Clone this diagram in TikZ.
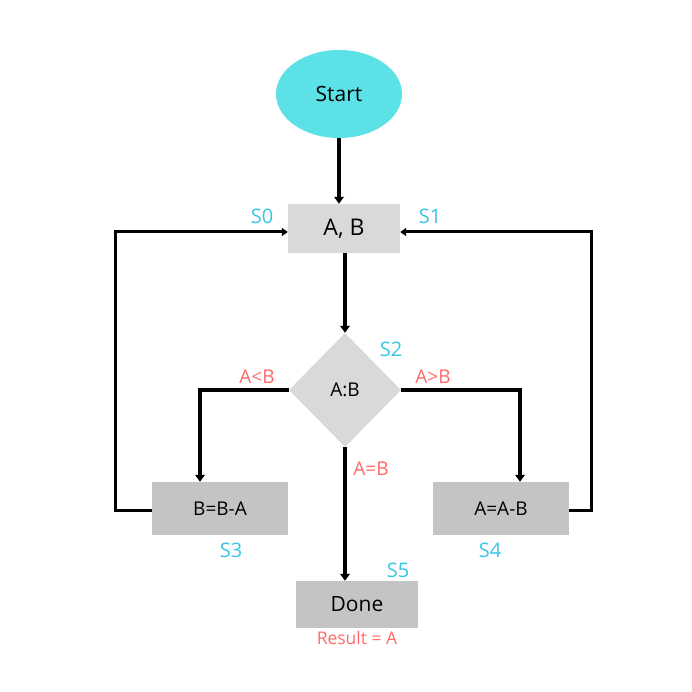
\documentclass[tikz,border=0pt]{standalone}
\usepackage{fontspec}
\setmainfont{Open Sans}
\usetikzlibrary{arrows.meta,shapes.geometric}
\definecolor{startc}{HTML}{5CE1E6}
\definecolor{lightg}{HTML}{D9D9D9}
\definecolor{darkg}{HTML}{C4C4C4}
\definecolor{cyanl}{HTML}{38C6E8}
\definecolor{redl}{HTML}{FF6B6B}
\tikzset{
  box/.style={rectangle, fill=#1, inner sep=0pt, font=\fontsize{19}{21}\selectfont},
  conn/.style={line width=4.5pt, -{Triangle[length=7pt,width=9.5pt]}},
  loopc/.style={line width=3pt, -{Triangle[length=6pt,width=8pt]}},
  slab/.style={text=cyanl, font=\fontsize{20}{22}\selectfont, inner sep=0pt},
  clab/.style={text=redl, font=\fontsize{19}{21}\selectfont, inner sep=0pt},
}
\begin{document}
\begin{tikzpicture}[x=1pt,y=-1pt]
\useasboundingbox (0,0) rectangle (692,692);
\fill[white] (0,0) rectangle (692,692);
\node[ellipse, fill=startc, minimum width=126pt, minimum height=88pt, inner sep=0pt, font=\fontsize{21}{23}\selectfont] (start) at (339,94) {Start};
\node[box=lightg, minimum width=112pt, minimum height=49pt, font=\fontsize{23}{25}\selectfont] (ab) at (344,228.5) {A, B};
\node[diamond, fill=lightg, minimum width=112pt, minimum height=114pt, inner sep=0pt, font=\fontsize{19}{21}\selectfont] (cmp) at (345,390) {A:B};
\node[box=darkg, minimum width=136pt, minimum height=53pt] (sub1) at (220,508.5) {B=B-A};
\node[box=darkg, minimum width=136pt, minimum height=53pt] (sub2) at (501,508.5) {A=A-B};
\node[box=darkg, minimum width=122pt, minimum height=47pt, font=\fontsize{21}{23}\selectfont] (done) at (357,604.5) {Done};

\coordinate (ltop) at (115,232);
\coordinate (lbot) at (115,510);
\coordinate (rtop) at (591,232);
\coordinate (rbot) at (591,510);
\coordinate (lc) at (200,390);
\coordinate (rc) at (520,390);

\draw[conn] (start.south) -- (start.south |- ab.north);
\draw[conn] (ab.south -| cmp.north) -- (cmp.north);
\draw[conn] (cmp.west) -- (lc) -- (lc |- sub1.north);
\draw[conn] (cmp.east) -- (rc) -- (rc |- sub2.north);
\draw[conn] (cmp.south) -- (cmp.south |- done.north);
\draw[loopc] (sub1.west |- lbot) -- (lbot) -- (ltop) -- (ab.west |- ltop);
\draw[loopc] (sub2.east |- rbot) -- (rbot) -- (rtop) -- (ab.east |- rtop);

\node[slab] (s0) at (262,216) {S0};
\node[slab] (s1) at (430,216) {S1};
\node[slab] (s2) at (391,349) {S2};
\node[slab] (s3) at (231,550) {S3};
\node[slab] (s4) at (490,550) {S4};
\node[slab] (s5) at (398,570) {S5};
\node[clab] (lt) at (257,377) {A<B};
\node[clab] (gt) at (433,377) {A>B};
\node[clab] (eq) at (371,469) {A=B};
\node[clab, font=\fontsize{17.5}{19}\selectfont] (res) at (357,638) {Result = A};
\end{tikzpicture}
\end{document}
